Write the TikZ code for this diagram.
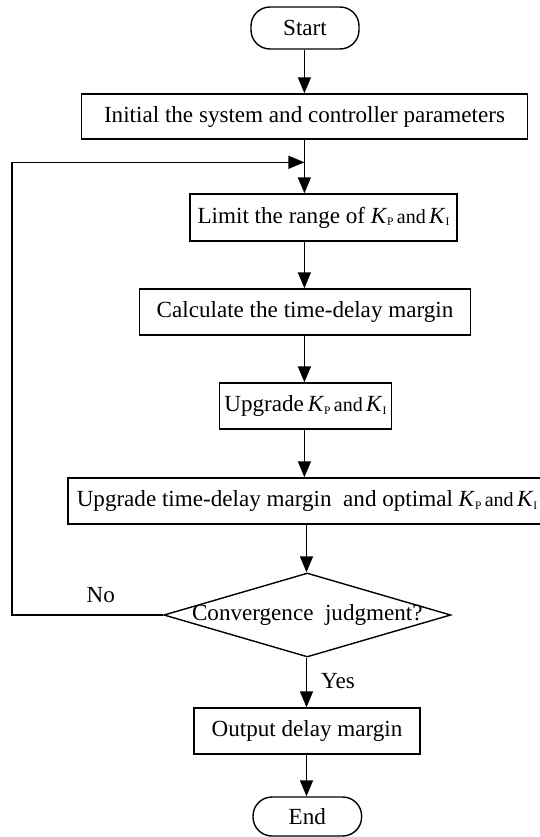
\documentclass[tikz,border=0pt]{standalone}
\usepackage{fontspec}
\setmainfont{Liberation Serif}
\usetikzlibrary{arrows.meta,shapes.geometric}
\newcommand{\KP}{\textit{K}\raisebox{-0.25ex}{\fontsize{11.5}{12}\selectfont P}}
\newcommand{\KI}{\textit{K}\raisebox{-0.25ex}{\fontsize{11.5}{12}\selectfont I}}
\newcommand{\andsm}{{\fontsize{20}{21}\selectfont\,and\,}}
\begin{document}
\begin{tikzpicture}[x=1pt,y=-1pt,
  every node/.style={font=\fontsize{23.1}{25}\selectfont},
  box/.style={draw,line width=1.4pt,rectangle,inner sep=0pt},
  term/.style={draw,line width=1.4pt,rectangle,rounded corners=19pt,inner sep=0pt},
  decision/.style={draw,line width=1.4pt,diamond,inner sep=0pt},
  arr/.style={line width=1.5pt,-{Triangle[width=13pt,length=16pt]}},
  line/.style={line width=1.5pt}]
\useasboundingbox (0,0) rectangle (540,837);
\begin{scope}
\clip (0,0) rectangle (540,837);
\node[term,minimum width=108pt,minimum height=42pt] (start) at (305,28) {Start};
\node[box,minimum width=446pt,minimum height=45pt] (init) at (304.5,116.5) {Initial the system and controller parameters};
\node[box,minimum width=267pt,minimum height=47pt] (limit) at (323.5,217.5) {Limit the range of \KP\andsm\KI};
\node[box,minimum width=331pt,minimum height=46pt] (calc) at (305,312) {Calculate the time-delay margin};
\node[box,minimum width=172pt,minimum height=46pt] (upg) at (305.4,406) {Upgrade\,\KP\andsm\KI};
\node[box,minimum width=474pt,minimum height=46pt] (uptd) at (305,501) {\makebox[0pt]{\hspace*{4pt}Upgrade time-delay margin\ \ and optimal \KP\andsm\KI}};
\node[decision,minimum width=287pt,minimum height=84pt] (dec) at (307.3,615) {\makebox[0pt]{Convergence\ \ judgment?}};
\node[box,minimum width=226pt,minimum height=46pt] (out) at (307,731) {Output delay margin};
\node[term,minimum width=108.6pt,minimum height=39pt] (end) at (307.3,816.5) {End};
\node (no) at (100.7,595) {No};
\node (yes) at (338,681) {Yes};
\coordinate (lp) at (12,162.3);
\coordinate (mj) at (304.4,162.3);
\coordinate (ca) at (304.4,0);
\coordinate (cb) at (306.5,0);
\draw[arr] (start.south -| ca) -- (init.north -| ca);
\draw[line] (init.south -| ca) -- (mj);
\draw[arr] (mj) -- (limit.north -| ca);
\draw[arr] (limit.south -| ca) -- (calc.north -| ca);
\draw[arr] (calc.south -| ca) -- (upg.north -| ca);
\draw[arr] (upg.south -| ca) -- (uptd.north -| ca);
\draw[arr] (uptd.south -| cb) -- (dec.north -| cb);
\draw[arr] (dec.south -| cb) -- (out.north -| cb);
\draw[arr] (out.south -| cb) -- (end.north -| cb);
\draw[arr] (dec.west) -| (lp) -- (mj);
\end{scope}
\end{tikzpicture}
\end{document}
